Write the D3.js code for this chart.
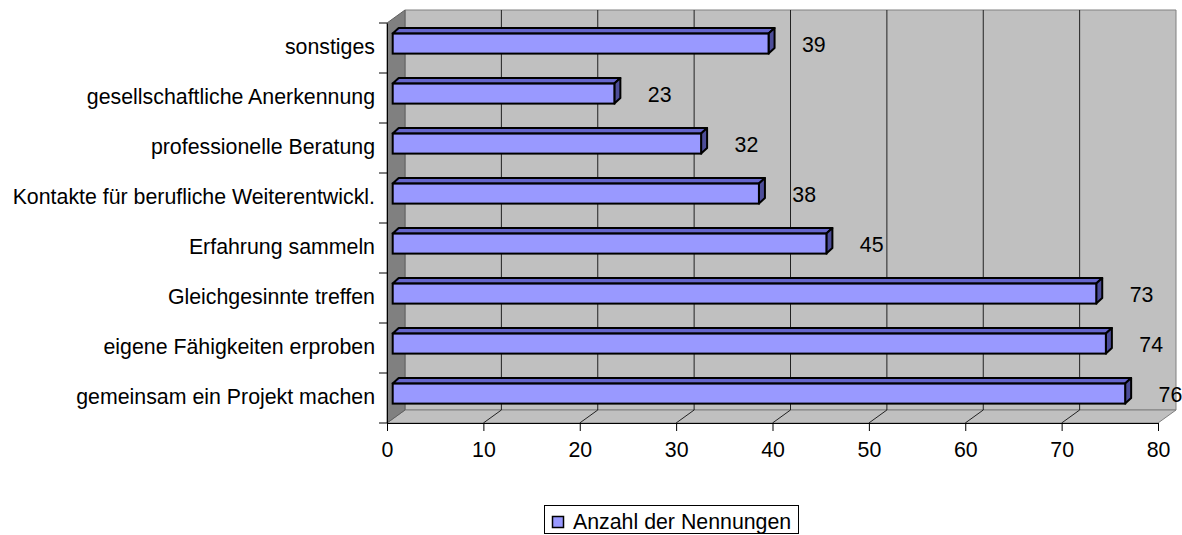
<!DOCTYPE html>
<html><head><meta charset="utf-8">
<script src="https://cdn.jsdelivr.net/npm/d3@7/dist/d3.min.js"></script>
<style>
html,body{margin:0;padding:0;background:#fff;}
svg{display:block;font-family:"Liberation Sans",Arial,sans-serif;}
</style></head>
<body>
<svg id="chart" width="1182" height="535"></svg>
<script>
const categories = ["sonstiges","gesellschaftliche Anerkennung","professionelle Beratung","Kontakte für berufliche Weiterentwickl.","Erfahrung sammeln","Gleichgesinnte treffen","eigene Fähigkeiten erproben","gemeinsam ein Projekt machen"];
const values = [39,23,32,38,45,73,74,76];
const xTicks = [0,10,20,30,40,50,60,70,80];
const seriesName = "Anzahl der Nennungen";

const svg = d3.select("#chart");
const FS = 21.33;
const x = d3.scaleLinear().domain([0,80]).range([387,1158]);
const y = d3.scaleBand().domain(categories).range([23,423]).paddingInner(0.6).paddingOuter(0.3);
const DX = 18, DY = -13;
const F = {dx:5.7, dy:-4.4};
const B = {dx:11.7, dy:-10};
const yTop = 23, yBot = 423, x0 = x(0), x1 = x(80);

svg.append("polygon")
  .attr("points", [[x0+DX,yTop+DY],[x1+DX,yTop+DY],[x1+DX,yBot+DY],[x0+DX,yBot+DY]].join(" "))
  .attr("fill","#c0c0c0").attr("stroke","#808080").attr("stroke-width",1);
svg.append("polygon")
  .attr("points", [[x0,yBot],[x1,yBot],[x1+DX,yBot+DY],[x0+DX,yBot+DY]].join(" "))
  .attr("fill","#c0c0c0").attr("stroke","#808080").attr("stroke-width",1);
svg.append("polygon")
  .attr("points", [[x0,yTop],[x0+DX,yTop+DY],[x0+DX,yBot+DY],[x0,yBot]].join(" "))
  .attr("fill","#808080").attr("stroke","#606060").attr("stroke-width",1);

const g = svg.append("g");
xTicks.filter(t=>t>0 && t<80).forEach(t=>{
  g.append("line").attr("x1",x(t)+DX).attr("x2",x(t)+DX).attr("y1",yTop+DY).attr("y2",yBot+DY)
    .attr("stroke","#222").attr("stroke-width",1);
  g.append("line").attr("x1",x(t)).attr("x2",x(t)+DX).attr("y1",yBot).attr("y2",yBot+DY)
    .attr("stroke","#222").attr("stroke-width",1);
});

const bars = svg.append("g").selectAll("g").data(categories.map((c,i)=>({c,v:values[i]}))).join("g");
bars.each(function(d){
  const gg = d3.select(this);
  const y0 = y(d.c), h = y.bandwidth();
  const xl = x(0), xr = x(d.v);
  const fx0 = xl+F.dx, fx1 = xr+F.dx, fy0 = y0+F.dy, fy1 = y0+h+F.dy;
  const bx0 = xl+B.dx, bx1 = xr+B.dx, by0 = y0+B.dy;
  gg.append("polygon").attr("points",[[fx0,fy0],[bx0,by0],[bx1,by0],[fx1,fy0]].join(" "))
    .attr("fill","#6666cc").attr("stroke","#000").attr("stroke-width",2).attr("stroke-linejoin","round");
  gg.append("polygon").attr("points",[[fx1,fy0],[bx1,by0],[bx1,by0+h],[fx1,fy1]].join(" "))
    .attr("fill","#4d4d99").attr("stroke","#000").attr("stroke-width",2).attr("stroke-linejoin","round");
  gg.append("rect").attr("x",fx0).attr("y",fy0).attr("width",fx1-fx0).attr("height",h)
    .attr("fill","#9999ff").attr("stroke","#000").attr("stroke-width",2);
  gg.append("text").attr("x",xr+51).attr("y",y0+h/2+F.dy+1).attr("dy","0.35em")
    .attr("text-anchor","middle").attr("font-size",FS).attr("fill","#000").text(d.v);
});

const xAxis = d3.axisBottom(x).tickValues(xTicks).tickSize(8).tickPadding(11);
const ax = svg.append("g").attr("transform",`translate(0,${yBot})`).call(xAxis);
ax.select(".domain").attr("stroke","#000");
ax.selectAll(".tick line").attr("stroke","#000");
ax.selectAll("text").attr("font-size",FS).attr("font-family","Liberation Sans, Arial, sans-serif").attr("fill","#000");

const yAxis = d3.axisLeft(d3.scaleBand().domain(categories).range([yTop,yBot])).tickSize(0).tickPadding(12);
const ay = svg.append("g").attr("transform",`translate(${x0},0)`).call(yAxis);
ay.select(".domain").attr("stroke","#000");
ay.selectAll("text").attr("font-size",FS).attr("font-family","Liberation Sans, Arial, sans-serif").attr("fill","#000").attr("dy","0.28em");
d3.range(categories.length+1).forEach(i=>{
  const yy = yTop + i*(yBot-yTop)/categories.length;
  svg.append("line").attr("x1",x0-8).attr("x2",x0).attr("y1",yy).attr("y2",yy).attr("stroke","#000");
});

const lg = svg.append("g");
lg.append("rect").attr("x",544.5).attr("y",505.5).attr("width",254).attr("height",28)
  .attr("fill","#fff").attr("stroke","#000").attr("stroke-width",1);
lg.append("rect").attr("x",552.5).attr("y",516.5).attr("width",11).attr("height",11)
  .attr("fill","#9999ff").attr("stroke","#000").attr("stroke-width",1.5);
lg.append("text").attr("x",573).attr("y",529).attr("font-size",FS).attr("fill","#000").text(seriesName);
</script>
</body></html>
